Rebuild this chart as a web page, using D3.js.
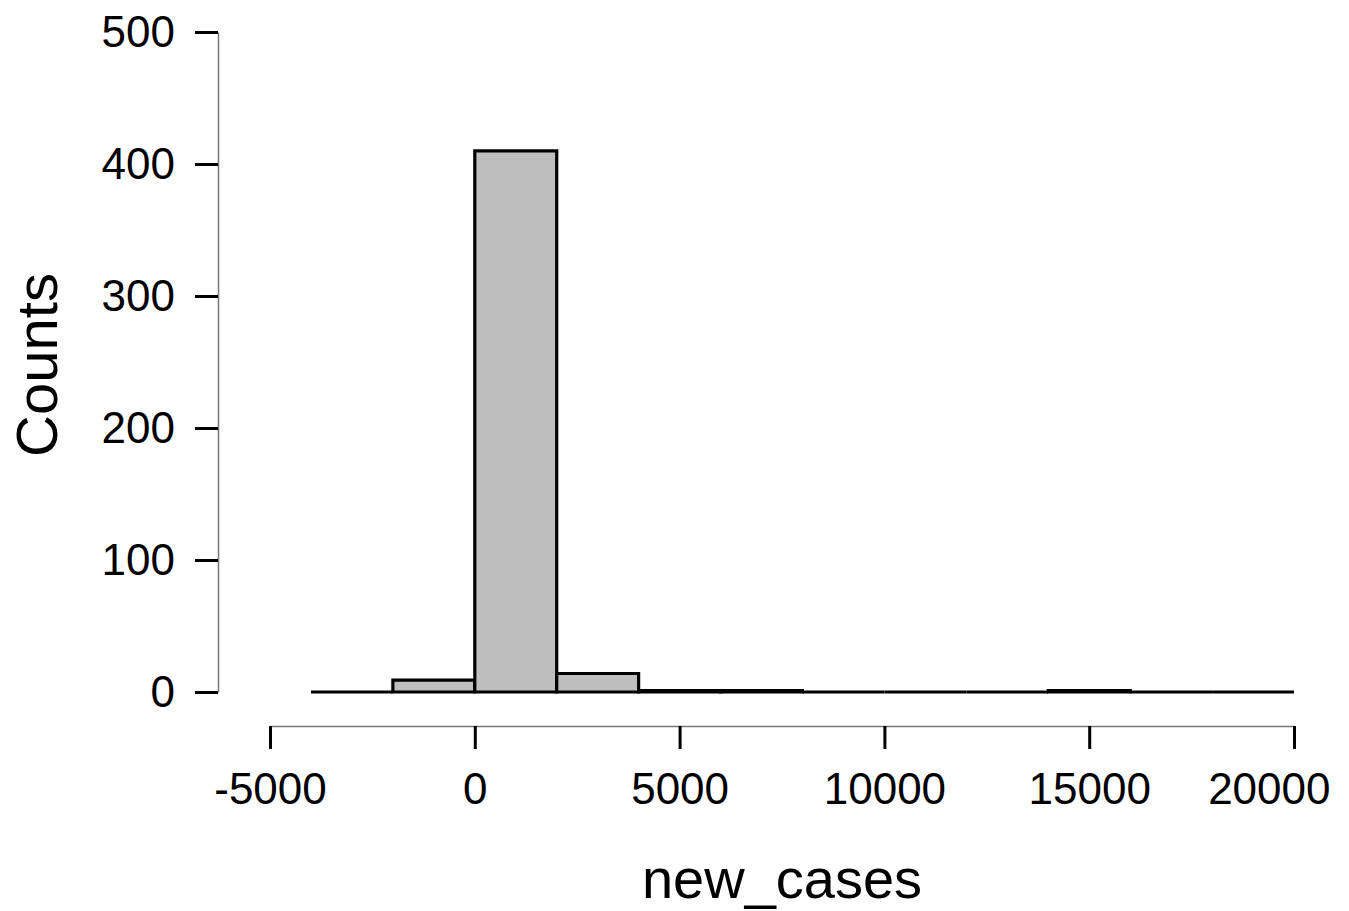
<!DOCTYPE html>
<html>
<head>
<meta charset="utf-8">
<script src="https://cdn.jsdelivr.net/npm/d3@7"></script>
<style>
  body { margin: 0; background: #fff; }
  text { font-family: "Liberation Sans", Arial, sans-serif; fill: #000; }
</style>
</head>
<body>
<svg id="chart" width="1349" height="911"></svg>
<script>
// Histogram bin edges (new_cases) and counts
const binStarts = [-4000, -2000, 0, 2000, 4000, 6000, 8000, 10000, 12000, 14000, 16000, 18000];
const binEnds   = [-2000, 0, 2000, 4000, 6000, 8000, 10000, 12000, 14000, 16000, 18000, 20000];
const counts    = [0, 9, 410, 14, 1, 1, 0, 0, 0, 1, 0, 0];
const xTicks = [-5000, 0, 5000, 10000, 15000, 20000];
const yTicks = [0, 100, 200, 300, 400, 500];
const xTitle = "new_cases";
const yTitle = "Counts";

const svg = d3.select("#chart");
const x = d3.scaleLinear().domain([-5000, 20000]).range([270, 1294]);
const y = d3.scaleLinear().domain([0, 500]).range([692, 32]);

// bars
const bins = binStarts.map((s, i) => ({ x0: s, x1: binEnds[i], n: counts[i] }));
svg.append("g").selectAll("path").data(bins).join("path")
  .attr("d", d => {
    const p = d3.path();
    p.moveTo(x(d.x0), y(0));
    p.lineTo(x(d.x0), y(d.n));
    p.lineTo(x(d.x1), y(d.n));
    p.lineTo(x(d.x1), y(0));
    p.closePath();
    return p.toString();
  })
  .attr("fill", "#bebebe")
  .attr("stroke", "#000")
  .attr("stroke-width", 3.2)
  .attr("stroke-linejoin", "miter");

// y axis
const gy = svg.append("g").attr("transform", "translate(218,0)")
  .call(d3.axisLeft(y).tickValues(yTicks).tickSize(23).tickSizeOuter(0).tickPadding(20).tickFormat(d => String(d)));
gy.select(".domain").attr("stroke", "#777").attr("stroke-width", 1.5);
gy.selectAll(".tick line").attr("stroke", "#000").attr("stroke-width", 3);
gy.selectAll(".tick text").style("font-size", "44px").attr("font-family", null);

// x axis
const gx = svg.append("g").attr("transform", "translate(0,726)")
  .call(d3.axisBottom(x).tickValues(xTicks).tickSize(23).tickSizeOuter(0).tickPadding(24).tickFormat(d => String(d)));
gx.select(".domain").attr("stroke", "#777").attr("stroke-width", 1.5);
gx.selectAll(".tick line").attr("stroke", "#000").attr("stroke-width", 3);
gx.selectAll(".tick text").style("font-size", "44px").attr("font-family", null);
// last label is shifted left so it stays inside the picture, as in the reference
gx.selectAll(".tick text").filter(d => d === 20000).attr("text-anchor", "end").attr("x", 36);

// titles
svg.append("text").attr("x", 782).attr("y", 898).attr("text-anchor", "middle")
  .style("font-size", "56px").text(xTitle);
svg.append("text").attr("transform", "translate(57,365) rotate(-90)").attr("text-anchor", "middle")
  .style("font-size", "58px").text(yTitle);
</script>
</body>
</html>
